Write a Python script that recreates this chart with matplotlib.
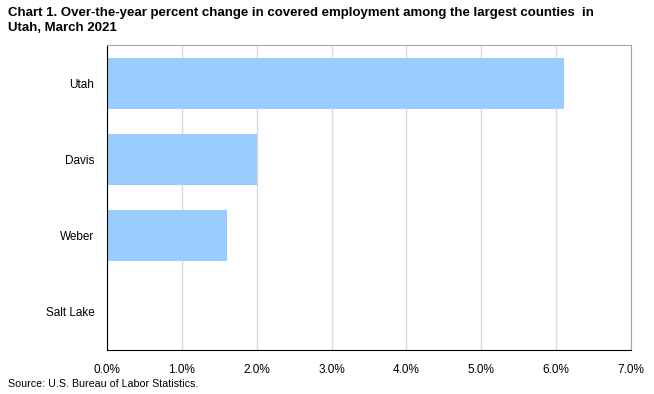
import matplotlib
matplotlib.use('Agg')
import matplotlib.pyplot as plt
from matplotlib.ticker import FuncFormatter

counties = ['Utah', 'Davis', 'Weber', 'Salt Lake']
pct_change = [6.1, 2.0, 1.6, 0.0]

plt.rcParams['font.family'] = ['Liberation Sans', 'DejaVu Sans']

dpi = 100
fig = plt.figure(figsize=(654 / dpi, 394 / dpi), dpi=dpi)
ax = fig.add_axes([107 / 654, 1 - 350 / 394, 524 / 654, 305 / 394])

ys = range(len(counties))
ax.barh(ys, pct_change, height=0.67, color='#99ccff', zorder=2)
ax.set_yticks(list(ys))
ax.set_yticklabels(counties, fontsize=8.5)
ax.set_ylim(len(counties) - 0.5, -0.5)

ax.set_xlim(0, 7)
ax.set_xticks([i for i in range(8)])
ax.xaxis.set_major_formatter(FuncFormatter(lambda v, p: '%.1f%%' % v))
ax.tick_params(axis='x', labelsize=8.5, length=0, pad=10)
ax.tick_params(axis='y', length=0, pad=9)
ax.xaxis.grid(True, color='#d9d9d9', linewidth=1, zorder=1)

ax.spines['left'].set_color('black')
ax.spines['bottom'].set_color('black')
ax.spines['top'].set_color('#a6a6a6')
ax.spines['right'].set_color('#a6a6a6')

fig.text(8 / 654, 1 - 7 / 394,
         'Chart 1. Over-the-year percent change in covered employment among the largest counties  in\nUtah, March 2021',
         fontsize=9.5, fontweight='bold', va='top', ha='left', linespacing=1.35)
fig.text(8 / 654, 1 - 384 / 394, 'Source: U.S. Bureau of Labor Statistics.',
         fontsize=7.7, va='center', ha='left')

fig.savefig('out.png', dpi=dpi)
